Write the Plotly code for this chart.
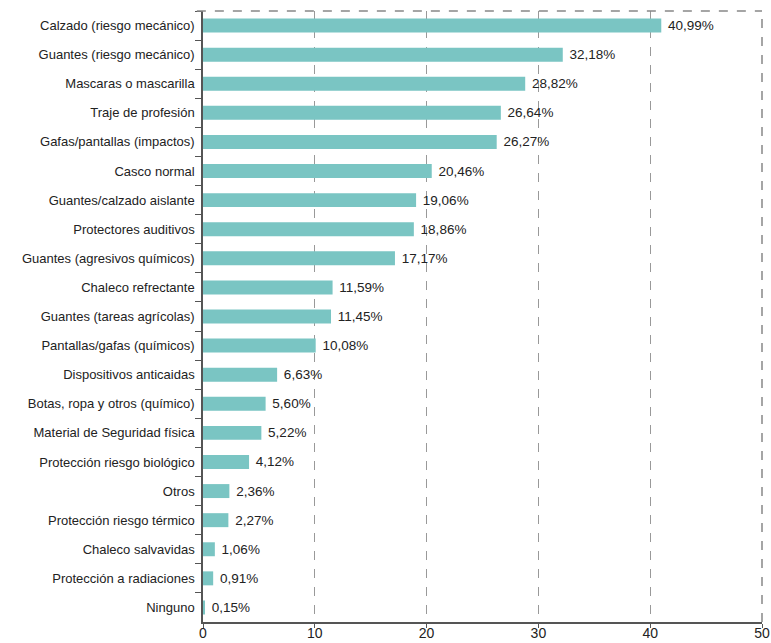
import plotly.graph_objects as go

categories = [
    "Calzado (riesgo mecánico)",
    "Guantes (riesgo mecánico)",
    "Mascaras o mascarilla",
    "Traje de profesión",
    "Gafas/pantallas (impactos)",
    "Casco normal",
    "Guantes/calzado aislante",
    "Protectores auditivos",
    "Guantes (agresivos químicos)",
    "Chaleco refrectante",
    "Guantes (tareas agrícolas)",
    "Pantallas/gafas (químicos)",
    "Dispositivos anticaidas",
    "Botas, ropa y otros (químico)",
    "Material de Seguridad física",
    "Protección riesgo biológico",
    "Otros",
    "Protección riesgo térmico",
    "Chaleco salvavidas",
    "Protección a radiaciones",
    "Ninguno",
]
values = [40.99, 32.18, 28.82, 26.64, 26.27, 20.46, 19.06, 18.86, 17.17, 11.59,
          11.45, 10.08, 6.63, 5.60, 5.22, 4.12, 2.36, 2.27, 1.06, 0.91, 0.15]
x_ticks = [0, 10, 20, 30, 40, 50]

labels = [" " + f"{v:.2f}".replace(".", ",") + "%" for v in values]

FONT = "Liberation Sans, Arial, sans-serif"

fig = go.Figure(go.Bar(
    x=values, y=categories, orientation="h",
    marker=dict(color="#7AC5C3", line=dict(width=0)),
    text=labels, textposition="outside", cliponaxis=False,
    constraintext="none",
    textfont=dict(family=FONT, size=13.5, color="#222222"),
    width=0.48,
))

fig.update_layout(
    width=771, height=643,
    margin=dict(l=203, r=9, t=11, b=21, autoexpand=False),
    plot_bgcolor="white", paper_bgcolor="white",
    showlegend=False,
    font=dict(family=FONT, size=13, color="#222222"),
    xaxis=dict(
        range=[0, 50], tickvals=x_ticks, showgrid=True,
        gridcolor="#999999", griddash="dash", gridwidth=1,
        showline=True, linecolor="#555555", linewidth=1.5,
        ticks="outside", ticklen=4, tickcolor="#555555",
        tickfont=dict(size=14, color="#222222"),
        ticklabelstandoff=-7, ticklabeloverflow="allow",
        zeroline=False, automargin=False,
    ),
    yaxis=dict(
        autorange="reversed", showline=True, linecolor="#555555", linewidth=1.5,
        ticks="outside", tickson="boundaries", ticklen=6, tickcolor="#555555",
        showgrid=False, tickfont=dict(size=13, color="#222222"),
        ticklabelstandoff=4, automargin=False,
    ),
    shapes=[
        dict(type="line", xref="paper", yref="paper", x0=-0.011, x1=1, y0=1, y1=1,
             line=dict(color="#888888", width=1.5, dash="dash")),
        dict(type="line", xref="paper", yref="paper", x0=1, x1=1, y0=0, y1=1,
             line=dict(color="#888888", width=1.5, dash="dash")),
    ],
)

fig.write_html("out.html", config={"displayModeBar": False},
               post_script="document.body.style.margin='0px';")
